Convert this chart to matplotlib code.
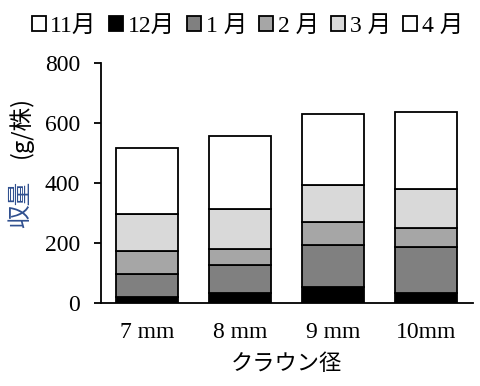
import numpy as np
import matplotlib.pyplot as plt

# Data (g/plant)
sizes = ['7 mm', '8 mm', '9 mm', '10mm']
months = ['11月', '12月', '1 月', '2 月', '3 月', '4 月']
nov = [0, 0, 0, 0]
dec = [20, 34, 52, 33]
jan = [77, 93, 140, 153]
feb = [77, 53, 77, 65]
mar = [124, 134, 123, 129]
apr = [219, 244, 238, 255]
colors = ['white', 'black', '#808080', '#a6a6a6', '#d9d9d9', 'white']

series = [nov, dec, jan, feb, mar, apr]

plt.rcParams['font.family'] = ['Liberation Serif', 'Noto Sans CJK JP']

fig = plt.figure(figsize=(4.8, 3.86), dpi=100)
ax = fig.add_axes([0.21, 0.215, 0.775, 0.622])

x = np.arange(len(sizes))
bottom = np.zeros(len(sizes))
handles = []
for name, vals, c in zip(months, series, colors):
    b = ax.bar(x, vals, 0.67, bottom=bottom, color=c, edgecolor='black',
               linewidth=1.3, label=name)
    bottom += np.array(vals)
    handles.append(b)

ax.set_xlim(-0.5, 3.5)
ax.set_ylim(0, 800)
ax.set_yticks([0, 200, 400, 600, 800])
ax.set_xticks(x)
ax.set_xticklabels(sizes, fontsize=17)
ax.tick_params(axis='x', length=0, pad=14)
ax.tick_params(axis='y', labelsize=17, length=5, width=1.3, pad=10)
for s in ['top', 'right']:
    ax.spines[s].set_visible(False)
for s in ['left', 'bottom']:
    ax.spines[s].set_linewidth(1.3)

ax.set_xlabel('クラウン径', fontsize=16, family=['Noto Sans CJK JP'], labelpad=6)
fig.text(0.042, 0.47, '収量', rotation=90, fontsize=17, color='#2f4f8f',
         family=['Noto Sans CJK JP'], ha='center', va='center')
fig.text(0.042, 0.67, '(g/株)', rotation=90, fontsize=17,
         family=['Noto Sans CJK JP'], ha='center', va='center')

leg = fig.legend(handles=handles, labels=months, loc='upper center',
                 bbox_to_anchor=(0.515, 1.015), ncol=6, frameon=False,
                 handlelength=0.6, handleheight=0.6,
                 handletextpad=0.2, columnspacing=0.5,
                 prop={'family': ['Liberation Serif', 'Noto Sans CJK JP'], 'size': 17})

fig.savefig('out.png', dpi=100)
